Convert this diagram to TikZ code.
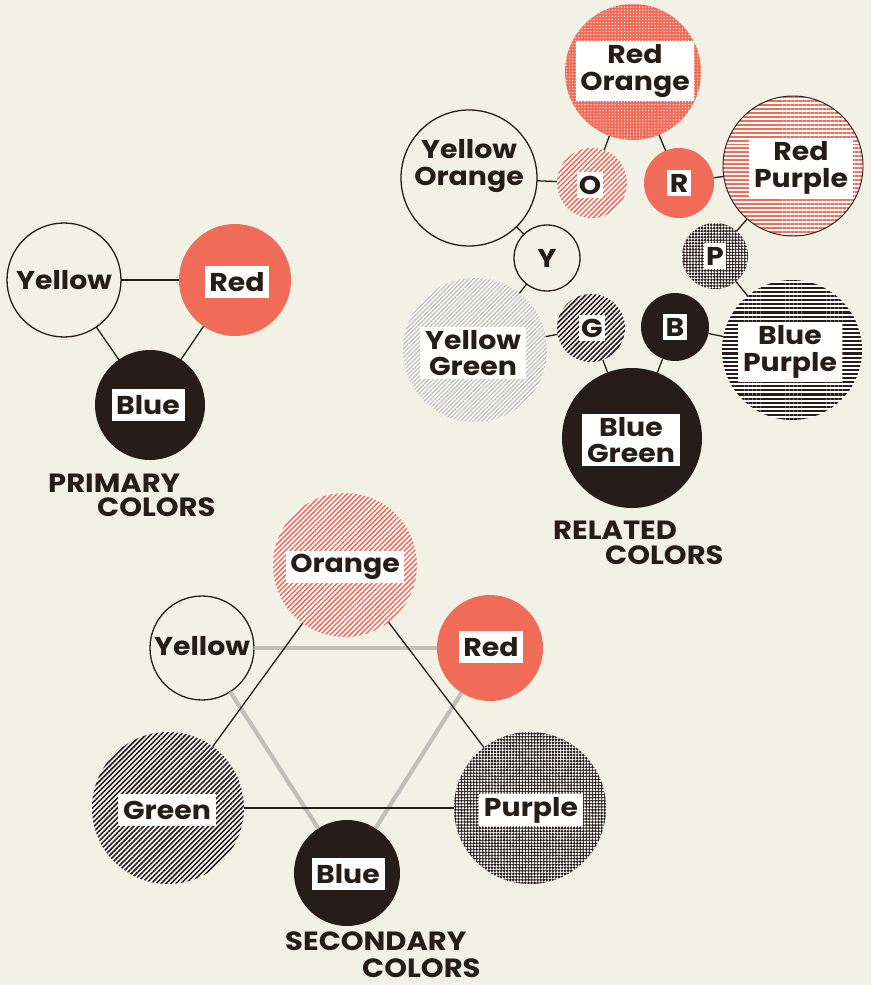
\documentclass[tikz,border=0pt]{standalone}
\usepackage{fontspec}
\setmainfont{Poppins}[FakeStretch=1.1]
\usetikzlibrary{patterns.meta}
\definecolor{paper}{RGB}{242,241,230}
\definecolor{salmon}{RGB}{241,108,88}
\definecolor{ink}{RGB}{38,29,25}
\definecolor{haze}{RGB}{192,191,186}
\tikzset{
  disc/.style={circle,inner sep=0pt,outer sep=0pt,minimum size={2*#1*0.03cm}},
  bare/.style={draw=ink,line width=1.1pt,fill=paper},
  solidred/.style={fill=salmon},
  solidink/.style={fill=ink},
  dotred/.style={preaction={fill=salmon},pattern={Dots[radius=0.55pt,distance=2.6pt]},pattern color=white},
  diagred/.style={preaction={fill=white},pattern={Lines[angle=45,distance=3pt,line width=1.3pt]},pattern color=salmon},
  flatred/.style={preaction={fill=white},pattern={Lines[angle=0,distance=3.4pt,line width=1.7pt]},pattern color=salmon},
  diaggrey/.style={preaction={fill=white},pattern={Lines[angle=45,distance=2.6pt,line width=1.1pt]},pattern color=haze},
  diagink/.style={preaction={fill=white},pattern={Lines[angle=45,distance=3pt,line width=1.4pt]},pattern color=ink},
  flatink/.style={preaction={fill=white},pattern={Lines[angle=0,distance=3.5pt,line width=1.8pt]},pattern color=ink},
  holeink/.style={preaction={fill=ink},pattern={Dots[radius=1.15pt,distance=2.6pt]},pattern color=white},
  tag/.style={fill=white,inner xsep=4pt,inner ysep=3pt,align=center,text=ink,
    font=\fontsize{22}{22.5}\selectfont\bfseries},
  word/.style={tag,minimum height=0.98cm},
  letter/.style={tag,inner xsep=2pt,inner ysep=1pt,minimum height=0.78cm},
  title/.style={anchor=west,inner sep=0pt,text=ink,font=\fontsize{22.5}{22}\selectfont\bfseries},
  link/.style={draw=ink,line width=1.1pt},
  ghost/.style={draw=haze,line width=3.6pt}
}
\begin{document}
\begin{tikzpicture}[x=0.03cm,y=-0.03cm]
\fill[paper] (0,0) rectangle (871,985);
\useasboundingbox (0,0) rectangle (871,985);

% primary colors
\node[disc=57,bare] (py) at (64,280) {};
\node[disc=56,solidred] (pr) at (235,280) {};
\node[disc=55,solidink] (pb) at (150,405) {};
\draw[link] (py) -- (pr);
\draw[link] (py) -- (pb);
\draw[link] (pr) -- (pb);
\node[word,fill=none] (pyt) at (py) {Yellow};
\node[word] (prt) at (237,282) {Red};
\node[word] (pbt) at (148,405) {Blue};
\node[title] (prim1) at (48,483) {PRIMARY};
\node[title] (prim2) at (97,507) {COLORS};

% related colors
\node[disc=68,dotred] (ro) at (633,72) {};
\node[disc=68,bare] (yo) at (469,178) {};
\node[disc=35,diagred] (o) at (592,183) {};
\node[disc=35,solidred] (r) at (679,183) {};
\node[disc=70,flatred,draw=ink,line width=0.8pt] (rp) at (793,166) {};
\node[disc=33,bare] (y) at (547,258) {};
\node[disc=33,holeink] (p) at (715,256) {};
\node[disc=72,diaggrey] (yg) at (475,350) {};
\node[disc=34,diagink] (g) at (591,328) {};
\node[disc=34,solidink] (b) at (675,327) {};
\node[disc=70,flatink] (bp) at (792,350) {};
\node[disc=70,solidink] (bg) at (632,438) {};
\draw[link] (ro) -- (o);
\draw[link] (ro) -- (r);
\draw[link] (yo) -- (o);
\draw[link] (r) -- (rp);
\draw[link] (yo) -- (y);
\draw[link] (rp) -- (p);
\draw[link] (y) -- (yg);
\draw[link] (p) -- (bp);
\draw[link] (yg) -- (g);
\draw[link] (b) -- (bp);
\draw[link] (g) -- (bg);
\draw[link] (b) -- (bg);
\node[tag] (rot) at (635,71) {Red\\Orange};
\node[tag,fill=none] (yot) at (469,166) {Yellow\\Orange};
\node[letter] (ot) at (590,185) {O};
\node[letter] (rt) at (679,183) {R};
\node[tag] (rpt) at (801,168) {Red\\Purple};
\node[letter,fill=none] (yt) at (547,258) {Y};
\node[letter] (pt) at (715,256) {P};
\node[tag] (ygt) at (473,353) {Yellow\\Green};
\node[letter] (gt) at (592,328) {G};
\node[letter] (bt) at (675,327) {B};
\node[tag] (bpt) at (790,352) {Blue\\Purple};
\node[tag] (bgt) at (631,440) {Blue\\Green};
\node[title] (rel1) at (553,530) {RELATED};
\node[title] (rel2) at (605,555) {COLORS};

% secondary colors
\node[disc=72,diagred] (so) at (345,565) {};
\node[disc=52,bare] (sy) at (202,648) {};
\node[disc=53,solidred] (sr) at (490,648) {};
\node[disc=76,diagink] (sg) at (168,808) {};
\node[disc=76,holeink] (sp) at (530,808) {};
\node[disc=53,solidink] (sb) at (347,873) {};
\draw[ghost] (sy) -- (sr);
\draw[ghost] (sy) -- (sb);
\draw[ghost] (sr) -- (sb);
\draw[link] (so) -- (sg);
\draw[link] (so) -- (sp);
\draw[link] (sg) -- (sp);
\node[word] (sot) at (345,567) {Orange};
\node[word,fill=none] (syt) at (202,646) {Yellow};
\node[word] (srt) at (491,647) {Red};
\node[word] (sgt) at (167,810) {Green};
\node[word] (spt) at (531,810) {Purple};
\node[word] (sbt) at (348,874) {Blue};
\node[title] (sec1) at (285,941) {SECONDARY};
\node[title] (sec2) at (362,968) {COLORS};
\end{tikzpicture}
\end{document}
